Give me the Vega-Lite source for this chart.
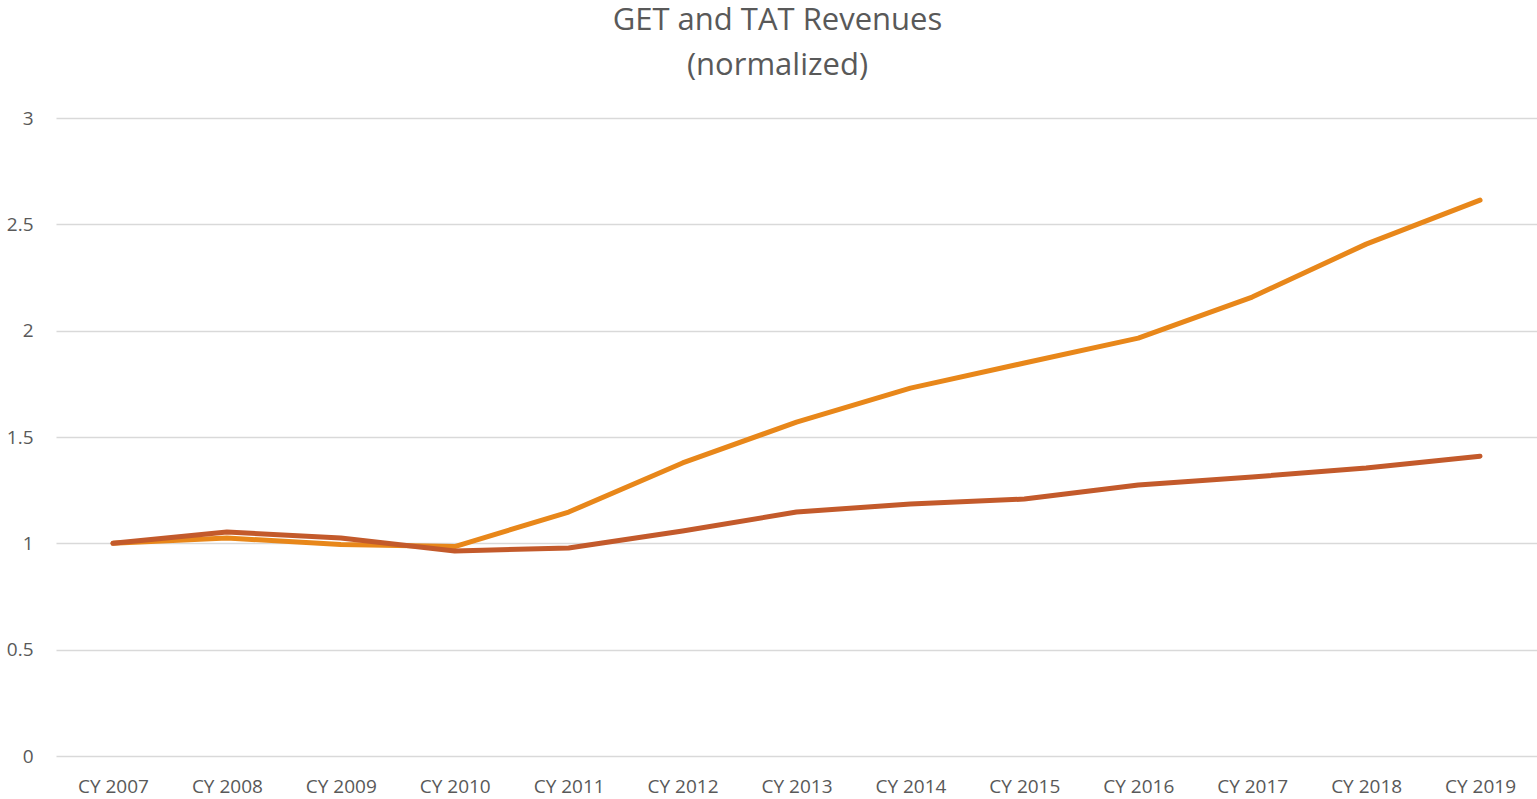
{
  "$schema": "https://vega.github.io/schema/vega-lite/v6.json",
  "autosize": {"type": "none"},
  "padding": {"left": 56, "top": 118, "right": 0, "bottom": 43},
  "width": 1481,
  "height": 638,
  "background": "white",
  "title": {
    "text": ["GET and TAT Revenues", "(normalized)"],
    "font": "Open Sans",
    "fontSize": 31,
    "fontWeight": "normal",
    "color": "#595959",
    "lineHeight": 45,
    "offset": 27,
    "dx": -19,
    "anchor": "middle"
  },
  "config": {
    "view": {"stroke": null},
    "axis": {
      "labelFont": "Open Sans",
      "labelFontSize": 19,
      "labelColor": "#595959",
      "gridColor": "#D9D9D9",
      "gridWidth": 1.3,
      "domain": false,
      "ticks": false,
      "title": null
    }
  },
  "data": {
    "values": [
      {"year": "CY 2007", "series": "GET", "value": 1.0},
      {"year": "CY 2008", "series": "GET", "value": 1.025},
      {"year": "CY 2009", "series": "GET", "value": 0.995},
      {"year": "CY 2010", "series": "GET", "value": 0.985},
      {"year": "CY 2011", "series": "GET", "value": 1.147},
      {"year": "CY 2012", "series": "GET", "value": 1.378},
      {"year": "CY 2013", "series": "GET", "value": 1.57},
      {"year": "CY 2014", "series": "GET", "value": 1.73},
      {"year": "CY 2015", "series": "GET", "value": 1.848},
      {"year": "CY 2016", "series": "GET", "value": 1.965},
      {"year": "CY 2017", "series": "GET", "value": 2.158},
      {"year": "CY 2018", "series": "GET", "value": 2.407},
      {"year": "CY 2019", "series": "GET", "value": 2.614},
      {"year": "CY 2007", "series": "TAT", "value": 1.0},
      {"year": "CY 2008", "series": "TAT", "value": 1.053},
      {"year": "CY 2009", "series": "TAT", "value": 1.025},
      {"year": "CY 2010", "series": "TAT", "value": 0.964},
      {"year": "CY 2011", "series": "TAT", "value": 0.978},
      {"year": "CY 2012", "series": "TAT", "value": 1.058},
      {"year": "CY 2013", "series": "TAT", "value": 1.147},
      {"year": "CY 2014", "series": "TAT", "value": 1.185},
      {"year": "CY 2015", "series": "TAT", "value": 1.208},
      {"year": "CY 2016", "series": "TAT", "value": 1.274},
      {"year": "CY 2017", "series": "TAT", "value": 1.312},
      {"year": "CY 2018", "series": "TAT", "value": 1.354},
      {"year": "CY 2019", "series": "TAT", "value": 1.41}
    ]
  },
  "mark": {"type": "line", "strokeWidth": 5, "strokeCap": "round", "strokeJoin": "round"},
  "encoding": {
    "x": {
      "field": "year",
      "type": "ordinal",
      "sort": null,
      "scale": {"type": "point", "padding": 0.5},
      "axis": {"labelAngle": 0, "grid": false, "labelPadding": 21}
    },
    "y": {
      "field": "value",
      "type": "quantitative",
      "scale": {"domain": [0, 3]},
      "axis": {"values": [0, 0.5, 1, 1.5, 2, 2.5, 3], "format": "~g", "labelPadding": 23, "grid": true}
    },
    "color": {
      "field": "series",
      "type": "nominal",
      "scale": {"domain": ["GET", "TAT"], "range": ["#E8871A", "#C35A2B"]},
      "legend": null
    },
    "order": {"field": "series"}
  }
}
